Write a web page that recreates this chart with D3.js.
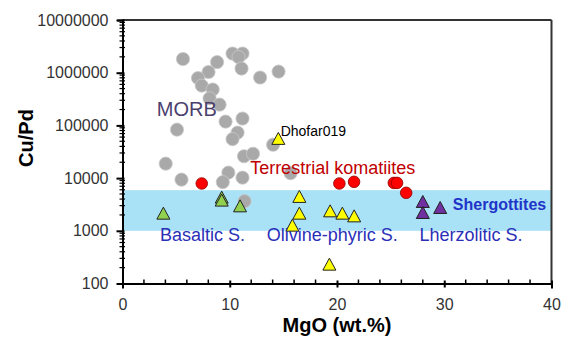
<!DOCTYPE html>
<html><head><meta charset="utf-8">
<script src="https://cdn.jsdelivr.net/npm/d3@7/dist/d3.min.js"></script>
<style>body{margin:0;background:#fff;} text{font-family:"Liberation Sans",Arial,sans-serif;}</style>
</head><body><svg id="c" width="563" height="337"></svg>
<script>
// ---- data ----
const morbMgO = [5.64,8.82,10.26,11.19,10.82,11.10,12.83,14.55,8.02,7.04,7.39,8.41,8.12,9.05,9.61,11.19,10.73,10.26,5.08,14.04,11.33,12.17,4.03,9.87,9.35,11.19,5.50,11.38,15.67];
const morbCuPd = [1.82e6,1.59e6,2.31e6,2.31e6,1.98e6,1.20e6,8.1e5,1.05e6,1.03e6,7.9e5,5.7e5,4.8e5,3.26e5,2.48e5,1.18e5,1.35e5,7.3e4,5.5e4,8.3e4,4.3e4,2.6e4,2.9e4,1.88e4,1.27e4,8400,1.02e4,9350,3650,1.24e4];
const komMgO = [7.39,20.22,21.59,25.3,25.6,26.45];
const komCuPd = [7900,7900,8500,8100,8100,5260];
const basMgO = [3.81,9.25,9.25,10.96];
const basCuPd = [2070,4170,3660,2850];
const olvMgO = [14.53,16.49,16.49,15.84,19.36,20.50,21.60,19.29];
const olvCuPd = [54300,4300,2070,1225,2290,2070,1840,223];
const lhzMgO = [28.0,28.0,29.62];
const lhzCuPd = [3450,2130,2650];
const bandRange = [1000,5900];
const xTicks = [0,10,20,30,40];
const yTicks = [100,1000,10000,100000,1000000,10000000];
const labels = [
  {t:"MORB", x:3.2, y:1.5e5, c:"#4b3f6e", s:20, w:"normal"},
  {t:"Dhofar019", x:14.75, y:6.2e4, c:"#000", s:14, w:"normal"},
  {t:"Terrestrial komatiites", x:11.9, y:1.2e4, c:"#c00000", s:18, w:"normal"},
  {t:"Shergottites", x:30.8, y:2450, c:"#1f35c8", s:16, w:"bold"},
  {t:"Basaltic S.", x:3.5, y:630, c:"#2b2fb8", s:18, w:"normal"},
  {t:"Olivine-phyric S.", x:13.45, y:630, c:"#2b2fb8", s:18, w:"normal"},
  {t:"Lherzolitic S.", x:27.7, y:630, c:"#2b2fb8", s:18, w:"normal"}
];

// ---- chart ----
const svg = d3.select("#c");
const L=122.5, R=551.5, T=20, B=283.5;
const x = d3.scaleLinear().domain([0,40]).range([L,R]);
const y = d3.scaleLog().domain([100,1e7]).range([B,T]);

// band
svg.append("rect").attr("x",x(0)).attr("width",x(40)-x(0))
  .attr("y",y(bandRange[1])).attr("height",y(bandRange[0])-y(bandRange[1]))
  .attr("fill","#a9e1f7");

// frame top/right
svg.append("line").attr("x1",L).attr("x2",R).attr("y1",T).attr("y2",T).attr("stroke","#333").attr("stroke-width",2);
svg.append("line").attr("x1",R).attr("x2",R).attr("y1",T).attr("y2",B).attr("stroke","#333").attr("stroke-width",2);

// x axis
const xa = svg.append("g").attr("transform",`translate(0,${B})`)
  .call(d3.axisBottom(x).tickValues(xTicks).tickSize(5).tickPadding(10).tickFormat(d3.format("d")));
xa.select(".domain").attr("stroke","#000").attr("stroke-width",2);
xa.selectAll(".tick line").attr("y1",-3).attr("y2",4).attr("stroke-width",2);
xa.selectAll("text").attr("font-size",16).attr("fill","#333").style("font-family","'Liberation Sans',Arial");
const xMinor = d3.range(0,41,2).filter(v=>v%10!==0);
xa.selectAll(".mx").data(xMinor).enter().append("line")
  .attr("x1",d=>x(d)).attr("x2",d=>x(d)).attr("y1",-4).attr("y2",0).attr("stroke","#000").attr("stroke-width",1.5);

// y axis
const ya = svg.append("g").attr("transform",`translate(${L},0)`)
  .call(d3.axisLeft(y).tickValues(yTicks).tickSize(5).tickPadding(9).tickFormat(d3.format("d")));
ya.select(".domain").attr("stroke","#000").attr("stroke-width",2);
ya.selectAll(".tick line").attr("x1",-6).attr("x2",2).attr("stroke-width",2);
ya.selectAll("text").attr("font-size",16).attr("fill","#333").style("font-family","'Liberation Sans',Arial");
const yMinor = [];
yTicks.slice(0,-1).forEach(d=>{for(let k=2;k<10;k++) yMinor.push(d*k);});
ya.selectAll(".my").data(yMinor).enter().append("line")
  .attr("x1",-3).attr("x2",2.5).attr("y1",d=>y(d)).attr("y2",d=>y(d)).attr("stroke","#000").attr("stroke-width",1.2);

// axis titles
svg.append("text").attr("x",x(20)).attr("y",332).attr("text-anchor","middle")
  .attr("font-size",20).attr("font-weight","bold").text("MgO (wt.%)");
svg.append("text").attr("transform","translate(33,138) rotate(-90)").attr("text-anchor","middle")
  .attr("font-size",20).attr("font-weight","bold").text("Cu/Pd");

// MORB points
svg.append("g").selectAll("circle").data(d3.zip(morbMgO,morbCuPd)).enter().append("circle")
  .attr("cx",d=>x(d[0])).attr("cy",d=>y(d[1])).attr("r",6.6)
  .attr("fill","#a9a9a9").attr("stroke","#c9c9c9").attr("stroke-width",0.8);

// komatiites
svg.append("g").selectAll("circle").data(d3.zip(komMgO,komCuPd)).enter().append("circle")
  .attr("cx",d=>x(d[0])).attr("cy",d=>y(d[1])).attr("r",5.8)
  .attr("fill","#ff0000").attr("stroke","#8b0000").attr("stroke-width",0.8);

const tri = "M0,-7L6.5,5L-6.5,5Z";
function triangles(xs,ys,fill){
  svg.append("g").selectAll("path").data(d3.zip(xs,ys)).enter().append("path")
    .attr("d",tri).attr("transform",d=>`translate(${x(d[0])},${y(d[1])})`)
    .attr("fill",fill).attr("stroke","#222").attr("stroke-width",1);
}
triangles(basMgO,basCuPd,"#92d050");
triangles(olvMgO,olvCuPd,"#ffff00");
triangles(lhzMgO,lhzCuPd,"#7030a0");

// labels
svg.append("g").selectAll("text").data(labels).enter().append("text")
  .attr("x",d=>x(d.x)).attr("y",d=>y(d.y)).attr("fill",d=>d.c)
  .attr("font-size",d=>d.s).attr("font-weight",d=>d.w).text(d=>d.t);
</script></body></html>
